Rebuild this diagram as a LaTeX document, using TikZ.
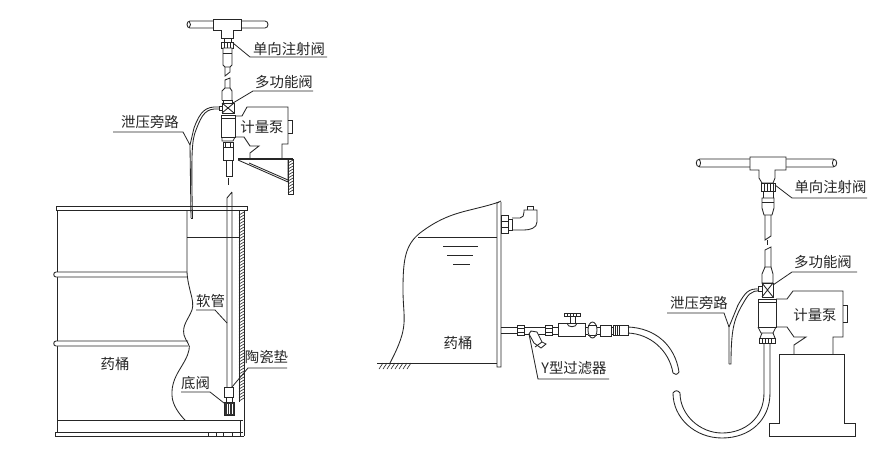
\documentclass[tikz,border=0pt]{standalone}
\usepackage{fontspec}
\setmainfont{Noto Sans CJK SC}
\begin{document}
\begin{tikzpicture}[x=1pt,y=-1pt,line width=0.85pt,line join=miter,
  ln/.style={draw=black!85},
  thin ln/.style={draw=black!85,line width=0.6pt},
  thick ln/.style={draw=black!85,line width=1.3pt},
  part/.style={draw=black!85,fill=white},
  lbl/.style={inner sep=0pt,text=black!85,font=\fontsize{14.4}{15}\selectfont},
  ldr/.style={draw=black!85,line width=0.8pt}]
\useasboundingbox (0,0) rectangle (871,461);
\fill[white] (0,0) rectangle (871,461);

%% ===== left unit: drum =====
\draw[ln] (57,210) -- (57,432);
\draw[part] (56,206) rectangle (247,210);
\draw[part] (187,272) -- (56,272) .. controls (53,272) and (53,277) .. (56,277) -- (187,277);
\draw[part] (188,341) -- (56,341) .. controls (53,341) and (53,346) .. (56,346) -- (188,346);
\draw[ln] (57,420) -- (243,420);
\draw[ln] (55,432) -- (243,432) (55,436) -- (244,436) (55,432) -- (55,436);
\draw[ln] (187,210) -- (187,272) .. controls (188,290) and (195,300) .. (192,310)
  .. controls (188,320) and (182,325) .. (184,335)
  .. controls (186,342) and (191,345) .. (189,350)
  .. controls (186,365) and (171,375) .. (172,395)
  .. controls (172,405) and (180,415) .. (185,420);
\draw[ln] (187,237) -- (240,237);
\draw[ln] (239,210) -- (239,402) (244,210) -- (244,436) (240,420) -- (240,436);
\foreach \y in {212,215,...,400} \draw[thin ln] (239,\y+3) -- (244,\y);
\foreach \x in {208,216,223,232,240} \draw[thin ln] (\x,432) -- (\x,436);
% suction hose and foot valve
\draw[ln] (227,198) -- (227,387) (232,192) -- (232,387) (227,198) -- (232,192);
\draw[part] (224,387) rectangle (233,397);
\draw[part] (226,397) rectangle (232,402);
\draw[draw=black!85,fill=black!80] (224,402) rectangle (234,415);
\foreach \x in {227,229.5,232} \draw[white,line width=0.5pt] (\x,404) -- (\x,414);
\node[lbl] (ya1) at (115,364) {药桶};
\node[lbl] (rg) at (210.5,301) {软管};
\node[lbl] (df) at (195.5,383) {底阀};
\node[lbl] (tc) at (266.5,357) {陶瓷垫};
\coordinate (rgA) at (196,310); \coordinate (rgB) at (215,310); \coordinate (rgC) at (227,323);
\draw[ldr] (rgA) -- (rgB) -- (rgC);
\coordinate (dfA) at (181,392); \coordinate (dfB) at (210,392); \coordinate (dfC) at (224,403);
\draw[ldr] (dfA) -- (dfB) -- (dfC);
\coordinate (tcA) at (287,368); \coordinate (tcB) at (248,368); \coordinate (tcC) at (232,387);
\draw[ldr] (tcA) -- (tcB) -- (tcC);

%% ===== left unit: injection line =====
\draw[ln] (213,21) -- (190,21) .. controls (186,21) and (186,28) .. (190,28) -- (213,28);
\draw[ln] (241,21) -- (265,21) .. controls (269,21) and (269,28) .. (265,28) -- (241,28);
\draw[ln] (189,21) .. controls (191,23) and (191,26) .. (189,28);
\draw[part] (213,19) -- (241,19) -- (241,30) -- (233,30) -- (233,38) -- (221,38) -- (221,30) -- (213,30) -- cycle;
\draw[ln] (224,38) -- (224,42) (231,38) -- (231,42);
\draw[part] (221,42) rectangle (233,48);
\foreach \x in {224,227,230} \draw[thin ln] (\x,42) -- (\x,48);
\draw[part] (223,48) -- (232,48) -- (232,65) -- (230,67) -- (225,67) -- (223,65) -- cycle;
\draw[ln] (223,53) -- (232,53);
\draw[ln] (225,67) -- (225,76) -- (230,72) -- (230,67);
\draw[ln] (225,88) -- (225,80) -- (230,78) -- (230,88);
\draw[part] (222,100) -- (222,91) -- (225,88) -- (230,88) -- (232,91) -- (232,100);
\draw[ln] (222,100) -- (232,100) (223,100) -- (223,103) (232,100) -- (232,103);
\draw[part] (222,103) rectangle (234,113);
\draw[ln] (222,103) -- (234,113) (234,103) -- (222,113);
\draw[part] (219,106) rectangle (222,110);
\draw[part] (221,115) rectangle (235,137);
\draw[ln] (221,118) -- (235,118);
\draw[ln] (222,137) -- (222,141) -- (233,141) -- (235,137);
\draw[part] (223,142) rectangle (233,160);
\draw[ln] (223,147) -- (233,147) (225,142) -- (225,147) (230,142) -- (230,147);
\draw[ln] (226,160) -- (226,176) -- (232,176) -- (232,160);
\draw[ln,dash pattern=on 7pt off 4pt] (228,178) -- (228,188);
% pump and bracket
\draw[ln] (235,116) -- (242,116) -- (247,107) -- (288,107) -- (288,144) -- (282,144) -- (282,158);
\draw[ln] (288,120) -- (292,120) -- (292,133) -- (288,133);
\draw[ln] (235,137) -- (244,137) -- (250,146) -- (259,146) -- (250,153) -- (250,158);
\draw[thick ln] (238,159) -- (293,159);
\draw[ln] (238,160) -- (288,182) -- (288,160);
\draw[ln] (249,163) -- (288,180) ;
\draw[ln] (288,159) -- (288,194) -- (293,194) -- (293,159);
\foreach \y in {160,163,...,190} \draw[thin ln] (288,\y+3) -- (293,\y);
% bypass
\draw[ln] (219,107) .. controls (205,106) and (200,112) .. (194,128) -- (190,145) -- (191,218);
\draw[ln] (219,109) .. controls (206,108) and (202,114) .. (196,130) .. controls (192,140) and (191,150) .. (192.5,218);
\draw[ln] (191,218) -- (192.5,218);
\node[lbl] (dx1) at (289,49) {单向注射阀};
\node[lbl] (dg1) at (284,82) {多功能阀};
\node[lbl] (jl1) at (262,127) {计量泵};
\node[lbl] (xy1) at (150,122) {泄压旁路};
\coordinate (dx1A) at (327,57); \coordinate (dx1B) at (250,57); \coordinate (dx1C) at (233,43);
\draw[ldr] (dx1A) -- (dx1B) -- (dx1C);
\coordinate (dg1A) at (313,91); \coordinate (dg1B) at (253,91); \coordinate (dg1C) at (233,103);
\draw[ldr] (dg1A) -- (dg1B) -- (dg1C);
\coordinate (xy1A) at (113,132); \coordinate (xy1B) at (183,132); \coordinate (xy1C) at (190,145);
\draw[ldr] (xy1A) -- (xy1B) -- (xy1C);

%% ===== middle tank =====
\draw[ln] (497,202) -- (497,367) -- (501,367) -- (501,202) (497,203) -- (501,201);
\draw[ln] (377,363) -- (497,363);
\foreach \x in {379,383,...,407} \draw[thin ln] (\x+4,363) -- (\x,369);
\draw[ln] (499,202) .. controls (470,212) and (450,210) .. (420,233)
  .. controls (405,245) and (403,260) .. (403,290)
  .. controls (403,320) and (410,325) .. (390,363);
\draw[ln] (418,237) -- (497,237);
\draw[ln] (443,246) -- (478,246) (447,255) -- (473,255) (453,264) -- (470,264);
\node[lbl] (ya2) at (458,343) {药桶};
% upper elbow
\draw[part] (501,215) rectangle (508,233);
\draw[ln] (501,221) -- (508,221) (501,227) -- (508,227);
\draw[ln] (508,219) rectangle (512,230);
\draw[ln] (512,218) -- (520,218) .. controls (523,218) and (524,215) .. (524,212) -- (524,210) -- (537,210) -- (537,222) .. controls (537,228) and (530,230) .. (524,230) -- (512,230);
\draw[ln] (527,210) -- (527,206) -- (533,206) -- (533,210);
% lower line
\draw[ln] (501,327) -- (517,327) (501,333) -- (517,333);
\draw[part] (517,325) rectangle (524,335);
\draw[ln] (517,328) -- (524,328) (517,332) -- (524,332);
\draw[ln] (524,327) rectangle (545,334);
\draw[part] (529,334) -- (531,331) -- (537,332) -- (542,342) -- (546,344) -- (541,348) -- (534,343) -- cycle;
\draw[ln] (542,342) -- (535,347);
\draw[part] (545,325) rectangle (552,335);
\draw[ln] (545,328) -- (552,328) (545,332) -- (552,332);
\draw[ln] (552,327) -- (558,327) (552,334) -- (558,334);
\draw[part] (558,323) rectangle (585,336);
\draw[ln] (567,323) .. controls (567,328) and (577,328) .. (577,323);
\draw[ln] (570,317) -- (570,323) (575,317) -- (575,323);
\draw[part] (564,313) rectangle (580,316.5);
\foreach \x in {567,570,573,576} \draw[thin ln] (\x,313) -- (\x,316.5);
\draw[ln] (585,327) -- (588,327) (585,334) -- (588,334);
\draw[part] (592.5,330) ellipse (4.5 and 8);
\draw[ln] (588,325) -- (597,325) (588,335) -- (597,335);
\draw[ln] (597,327) -- (600,327) (597,334) -- (600,334);
\draw[part] (600,325) rectangle (611,336);
\draw[ln] (611,327) -- (613,327) (611,334) -- (613,334);
\draw[part] (613,325) rectangle (628,335);
\foreach \x in {615,617,619} \draw[thin ln] (\x,325) -- (\x,335);
\draw[ln] (628,327) .. controls (655,328) and (675,345) .. (679,372);
\draw[ln] (628,333) .. controls (650,334) and (669,350) .. (673,373);
\draw[ln] (673,373) .. controls (675,375) and (677,375) .. (679,372);
\node[lbl] (yf) at (574,368) {Y型过滤器};
\coordinate (yfA) at (609,379); \coordinate (yfB) at (538,379); \coordinate (yfC) at (529,334);
\draw[ldr] (yfA) -- (yfB) -- (yfC);

%% ===== right unit =====
\draw[ln] (750,159) -- (700,159) .. controls (695,159) and (695,167) .. (700,167) -- (750,167);
\draw[ln] (786,159) -- (833,159) .. controls (838,159) and (838,167) .. (833,167) -- (786,167);
\draw[ln] (699,159) .. controls (701,162) and (701,164) .. (699,167);
\draw[ln] (834,159) .. controls (832,162) and (832,164) .. (834,167);
\draw[part] (750,157) -- (786,157) -- (786,170) -- (775,170) -- (775,178) -- (773,183) -- (762,183) -- (759,178) -- (759,170) -- (750,170) -- cycle;
\draw[part] (761,183) rectangle (775,191);
\foreach \x in {764,767,770,773} \draw[thin ln] (\x,183) -- (\x,191);
\draw[ln] (763,191) -- (763,198) (773,191) -- (773,198);
\draw[part] (762,198) -- (774,198) -- (774,208) -- (772,215) -- (764,215) -- (762,208) -- cycle;
\draw[ln] (762,202) -- (774,202);
\draw[ln] (765,215) -- (765,240) -- (771,236) -- (771,215);
\draw[ln,dash pattern=on 5pt off 3pt] (767.5,240) -- (767.5,246);
\draw[ln] (765,267) -- (765,250) -- (771,247) -- (771,267);
\draw[part] (762,283) -- (762,274) -- (765,267) -- (771,267) -- (773,274) -- (773,283) -- cycle;
\draw[part] (762,283) rectangle (773,297);
\draw[ln] (762,283) -- (773,297) (773,283) -- (762,297);
\draw[part] (758,299) rectangle (776,327);
\draw[ln] (758,302) -- (776,302);
\draw[ln] (758,327) -- (761,333) -- (773,333) -- (776,327);
\draw[part] (759,338) rectangle (775,343);
\foreach \x in {762,765,768,771} \draw[thin ln] (\x,338) -- (\x,343);
\draw[ln] (762,333) -- (760,338) (773,333) -- (775,338);
% hose
\draw[ln] (764,343) -- (764,393) .. controls (764,418) and (745,433) .. (722,433) .. controls (700,433) and (680,415) .. (680,393);
\draw[ln] (770,343) -- (770,393) .. controls (770,420) and (750,438) .. (722,438) .. controls (695,438) and (673,418) .. (673,393);
\draw[ln] (673,393) .. controls (675,390) and (678,390) .. (680,393);
% pump, base
\draw[ln] (776,299) -- (787,299) -- (793,291) -- (843,291) -- (843,337) -- (833,337) -- (833,354);
\draw[ln] (843,305) -- (847,305) -- (847,322) -- (843,322);
\draw[ln] (776,327) -- (787,327) -- (794,337) -- (806,337) -- (794,345) -- (794,354);
\draw[ln] (779,354) -- (844,354) -- (844,423) -- (855,423) -- (855,436) -- (769,436) -- (769,423) -- (779,423) -- cycle;
% bypass
\draw[ln] (760,289) .. controls (748,288) and (745,293) .. (738,305) -- (729,327) -- (729,364);
\draw[ln] (761,291) .. controls (750,290) and (748,295) .. (741,307) .. controls (734,320) and (731,330) .. (731,364) -- (729,364);
\draw[part] (758,286) rectangle (762,291);
\node[lbl] (dx2) at (830.5,187) {单向注射阀};
\node[lbl] (dg2) at (823,262) {多功能阀};
\node[lbl] (jl2) at (815,315) {计量泵};
\node[lbl] (xy2) at (699,303) {泄压旁路};
\coordinate (dx2A) at (867,198); \coordinate (dx2B) at (792,198); \coordinate (dx2C) at (775,185);
\draw[ldr] (dx2A) -- (dx2B) -- (dx2C);
\coordinate (dg2A) at (857,272); \coordinate (dg2B) at (792,272); \coordinate (dg2C) at (773,285);
\draw[ldr] (dg2A) -- (dg2B) -- (dg2C);
\coordinate (xy2A) at (667,313); \coordinate (xy2B) at (724,313); \coordinate (xy2C) at (729,327);
\draw[ldr] (xy2A) -- (xy2B) -- (xy2C);
\end{tikzpicture}
\end{document}
